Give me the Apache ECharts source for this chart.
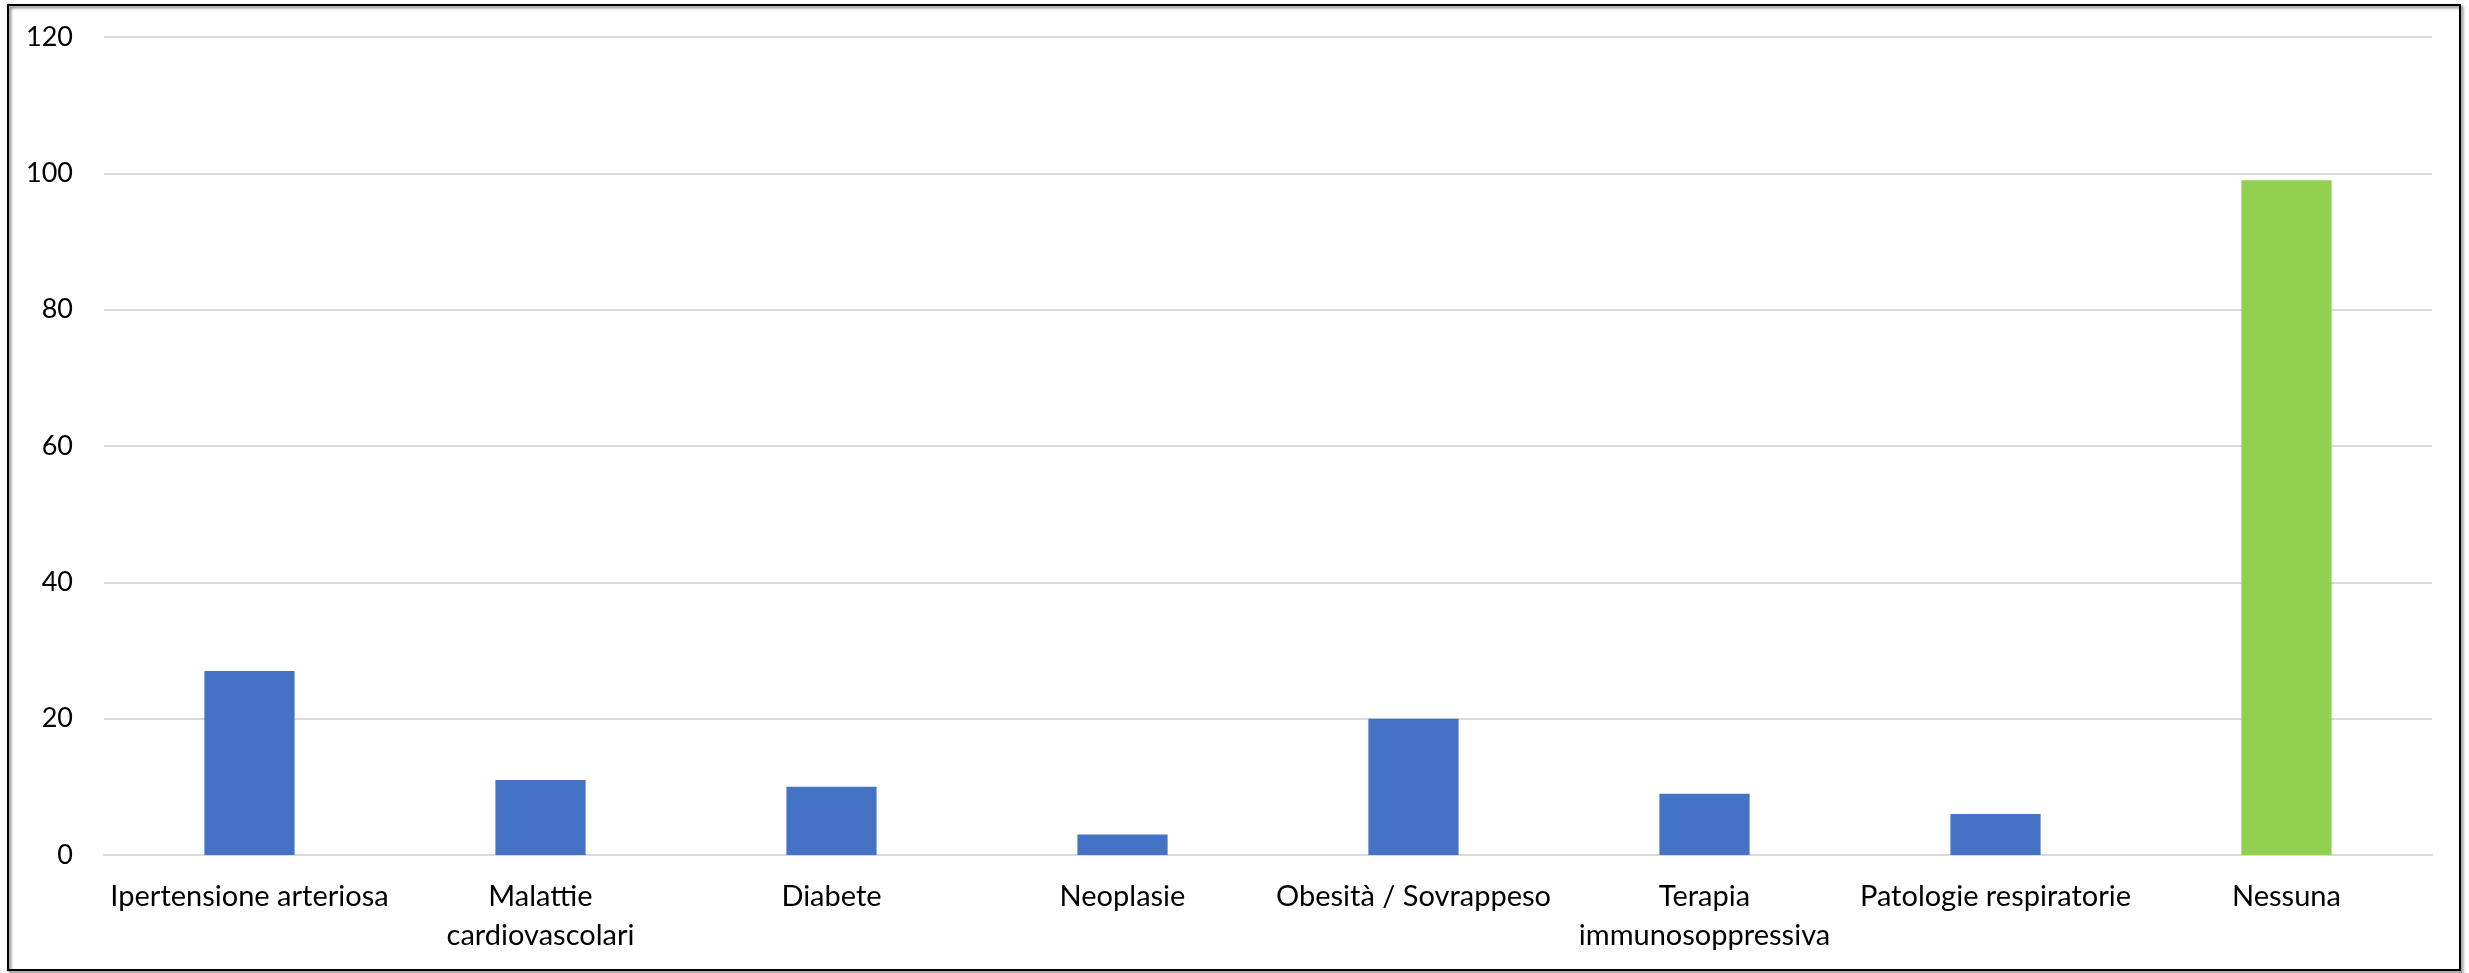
<!DOCTYPE html>
<html>
<head>
<meta charset="utf-8">
<script src="https://cdn.jsdelivr.net/npm/echarts@6/dist/echarts.min.js"></script>
<style>
  html, body { margin: 0; padding: 0; background: #fff; }
  #chart { width: 2469px; height: 973px; }
</style>
</head>
<body>
<div id="chart"></div>
<script>
// Comorbidità riportate
const categories = [
  'Ipertensione arteriosa',
  'Malattie\ncardiovascolari',
  'Diabete',
  'Neoplasie',
  'Obesità / Sovrappeso',
  'Terapia\nimmunosoppressiva',
  'Patologie respiratorie',
  'Nessuna'
];
const values = [27, 11, 10, 3, 20, 9, 6, 99];
const barColors = ['#4472C4', '#4472C4', '#4472C4', '#4472C4', '#4472C4', '#4472C4', '#4472C4', '#92D050'];
const yTicks = { min: 0, max: 120, interval: 20 };

const chart = echarts.init(document.getElementById('chart'), null, { renderer: 'canvas' });
const font = 'Lato, "Open Sans", sans-serif';

chart.setOption({
  animation: false,
  backgroundColor: '#fff',
  graphic: [{
    type: 'rect',
    shape: { x: 8, y: 5, width: 2452, height: 965 },
    style: {
      fill: 'none',
      stroke: '#000',
      lineWidth: 2,
      shadowBlur: 3,
      shadowOffsetX: 2,
      shadowOffsetY: 2,
      shadowColor: 'rgba(0,0,0,0.6)'
    },
    z: 10
  }],
  grid: { left: 104, right: 2469 - 2432, top: 37, bottom: 973 - 855, containLabel: false },
  xAxis: {
    type: 'category',
    data: categories,
    axisLine: { show: true, lineStyle: { color: '#d9d9d9', width: 2 } },
    axisTick: { show: false },
    axisLabel: {
      interval: 0,
      margin: 22,
      color: '#000',
      fontFamily: font,
      fontSize: 29,
      lineHeight: 39,
      align: 'center'
    }
  },
  yAxis: {
    type: 'value',
    min: yTicks.min,
    max: yTicks.max,
    interval: yTicks.interval,
    axisLine: { show: false },
    axisTick: { show: false },
    splitLine: { lineStyle: { color: '#d9d9d9', width: 2 } },
    axisLabel: {
      margin: 31,
      color: '#000',
      fontFamily: font,
      fontSize: 27
    }
  },
  series: [{
    type: 'bar',
    data: values.map((v, i) => ({ value: v, itemStyle: { color: barColors[i] } })),
    barWidth: '31%'
  }]
});
</script>
</body>
</html>
